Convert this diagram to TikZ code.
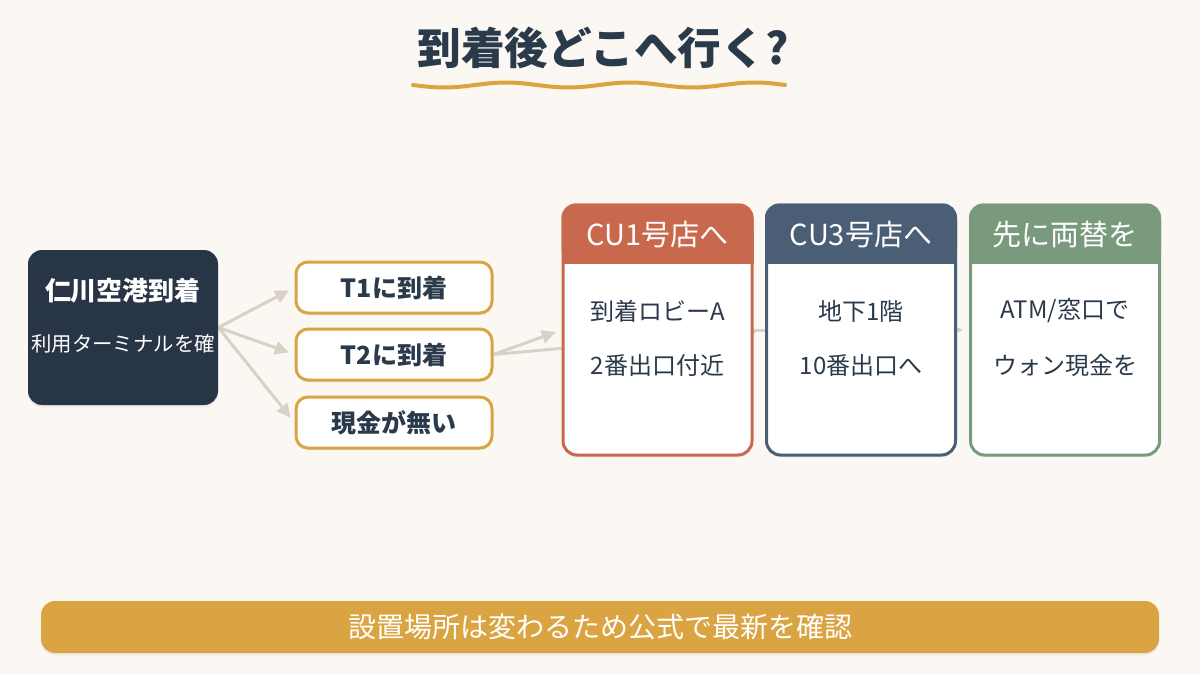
\documentclass[tikz,border=0pt]{standalone}
\usepackage{fontspec}
\setmainfont{Noto Sans CJK JP}
\usetikzlibrary{arrows.meta,positioning,shadows}
\definecolor{RouteInk}{HTML}{2B3A4B}
\definecolor{RouteNavy}{HTML}{283547}
\definecolor{RouteGold}{HTML}{D9A441}
\definecolor{RouteRed}{HTML}{C8694E}
\definecolor{RouteSlate}{HTML}{4A5E75}
\definecolor{RouteSage}{HTML}{7A9A7E}
\definecolor{RouteFlow}{HTML}{DAD1C6}
\definecolor{RoutePaper}{HTML}{FBF7F2}
\pgfdeclarelayer{paper}
\pgfdeclarelayer{wires}
\pgfsetlayers{paper,wires,main}
\tikzset{
  every node/.style={text=RouteInk, inner sep=0pt},
  soft/.style={drop shadow={opacity=0.10, shadow xshift=0pt, shadow yshift=-1.2pt}},
  origin/.style={fill=RouteNavy, rounded corners=7pt, minimum width=95pt, minimum height=77.5pt, soft},
  choice/.style={draw=RouteGold, line width=1.5pt, fill=white, rounded corners=6pt, minimum width=98pt, minimum height=25.5pt, font=\bfseries\fontsize{12.5}{15}\selectfont, soft},
  card/.style={draw=#1, line width=1.5pt, fill=white, rounded corners=7pt, minimum width=94.5pt, minimum height=125pt, soft},
  cardhead/.style={text=white, font=\fontsize{14.5}{16}\selectfont},
  cardline/.style={font=\fontsize{12}{14}\selectfont},
  flow/.style={-{Triangle[length=7pt,width=6.5pt]}, draw=RouteFlow, line width=1.5pt, shorten >=3pt},
  banner/.style={fill=RouteGold, rounded corners=7pt, minimum width=559pt, minimum height=26pt, text=white, font=\fontsize{14}{16}\selectfont, soft},
}
\newcommand{\cardtop}[2]{%
  \fill[#2, rounded corners=7pt] (#1.north west) rectangle ([yshift=-30pt]#1.north east);
  \fill[#2] ([yshift=-15pt]#1.north west) rectangle ([yshift=-30pt]#1.north east);}

\begin{document}
\begin{tikzpicture}[x=0.5pt,y=-0.5pt]
  % Paper
  \begin{pgfonlayer}{paper}
    \fill[RoutePaper] (0,0) rectangle (1200,675);
  \end{pgfonlayer}
  % Title and wavy underline
  \node[font=\bfseries\fontsize{21.8}{26}\selectfont] (title) at (603,48) {到着後どこへ行く?};
  \draw[RouteGold, line width=2pt, line cap=round] plot[domain=413:785, samples=90, smooth] (\x, {85+2.5*sin((\x-413)*2.9)});
  % Arrival
  \node[origin] (start) at (123,327.5) {};
  \node[text=white, font=\bfseries\fontsize{13}{15}\selectfont] (startTitle) at (123,291) {仁川空港到着};
  \node[text=white, font=\fontsize{10.2}{13}\selectfont] (startSub) at (123,344) {利用ターミナルを確};
  % Terminal / cash choices
  \node[choice] (t1) at (394,287.5) {T1に到着};
  \node[choice] (t2) at (394,354.5) {T2に到着};
  \node[choice] (cash) at (394,422.5) {現金が無い};
  % Destination cards
  \node[card=RouteRed] (cu1) at (657.5,330) {};
  \node[card=RouteSlate] (cu3) at (861,330) {};
  \node[card=RouteSage] (exch) at (1065,330) {};
  \cardtop{cu1}{RouteRed}
  \cardtop{cu3}{RouteSlate}
  \cardtop{exch}{RouteSage}
  \node[cardhead] (cu1Head) at ([yshift=-15.5pt]cu1.north) {CU1号店へ};
  \node[cardhead] (cu3Head) at ([yshift=-15.5pt]cu3.north) {CU3号店へ};
  \node[cardhead] (exchHead) at ([yshift=-15.5pt]exch.north) {先に両替を};
  \node[cardline] (cu1a) at (657.5,311) {到着ロビーA};
  \node[cardline] (cu1b) at (657.5,365) {2番出口付近};
  \node[cardline] (cu3a) at (861,311) {地下1階};
  \node[cardline] (cu3b) at (861,365) {10番出口へ};
  \node[cardline] (excha) at (1065,311) {ATM/窓口で};
  \node[cardline] (exchb) at (1065,365) {ウォン現金を};
  % Note
  \node[banner] (note) at (600,627) {設置場所は変わるため公式で最新を確認};
  % Connectors, under the boxes
  \begin{pgfonlayer}{wires}
    \draw[flow] (start.east) -- (t1.west);
    \draw[flow] (start.east) -- (t2.west);
    \draw[flow] (start.east) -- (cash.west);
    \draw[flow] (t2.east) -- (cu1.west);
    \draw[flow] (t2.east) -- (cu3.west);
    \draw[flow] (cu1.east) -- (exch.west);
  \end{pgfonlayer}
\end{tikzpicture}
\end{document}
